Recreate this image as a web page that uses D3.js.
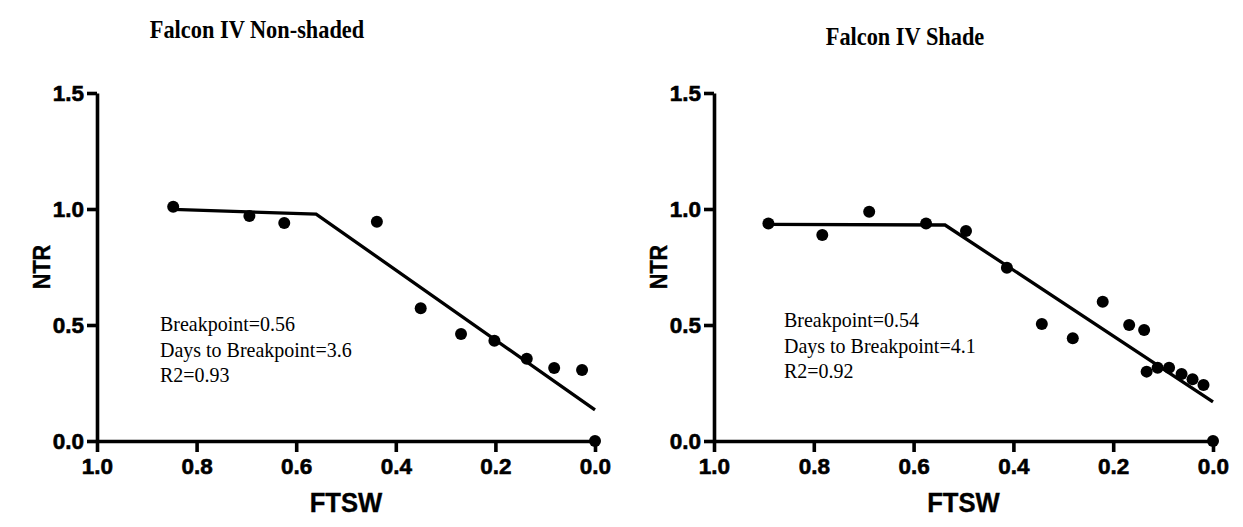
<!DOCTYPE html>
<html><head><meta charset="utf-8">
<script src="https://cdn.jsdelivr.net/npm/d3@7"></script>
<style>body{margin:0;background:#fff}svg{display:block}</style>
</head><body><svg id="c" width="1243" height="527"></svg>
<script>
// Panel titles
const titles = ["Falcon IV Non-shaded", "Falcon IV Shade"];
// Annotations
const notesNS = ["Breakpoint=0.56", "Days to Breakpoint=3.6", "R2=0.93"];
const notesS = ["Breakpoint=0.54", "Days to Breakpoint=4.1", "R2=0.92"];
// Ticks
const xTicks = [1.0, 0.8, 0.6, 0.4, 0.2, 0.0];
const yTicks = [0.0, 0.5, 1.0, 1.5];
// Non-shaded data
const ftswNS = [0.847, 0.694, 0.624, 0.438, 0.350, 0.269, 0.202, 0.137, 0.082, 0.026, 0.0];
const ntrNS  = [1.01, 0.97, 0.94, 0.945, 0.572, 0.461, 0.432, 0.355, 0.315, 0.306, 0.0];
const fitXNS = [0.847, 0.56, 0.0];
const fitYNS = [0.998, 0.978, 0.134];
// Shade data
const ftswS = [0.891, 0.783, 0.689, 0.575, 0.495, 0.413, 0.343, 0.281, 0.221, 0.168, 0.138, 0.133, 0.111, 0.088, 0.063, 0.041, 0.019, 0.0];
const ntrS  = [0.938, 0.888, 0.988, 0.938, 0.905, 0.747, 0.504, 0.443, 0.600, 0.500, 0.478, 0.299, 0.316, 0.316, 0.289, 0.266, 0.241, 0.0];
const fitXS = [0.891, 0.537, 0.0];
const fitYS = [0.934, 0.931, 0.169];

const svg = d3.select("#c");
const y = d3.scaleLinear().domain([0, 1.5]).range([441, 93]);
const SANS = "Liberation Sans, Arial, sans-serif";
const SERIF = "Liberation Serif, Times New Roman, serif";

const panels = [
  {title: titles[0], tx: 257, ty: 38, x0: 97, x1: 595, fx: ftswNS, fy: ntrNS, lx: fitXNS, ly: fitYNS, notes: notesNS, nx: 160, ny: 331, ylab: 41},
  {title: titles[1], tx: 905, ty: 45, x0: 714, x1: 1213, fx: ftswS, fy: ntrS, lx: fitXS, ly: fitYS, notes: notesS, nx: 784, ny: 327, ylab: 658}
];

panels.forEach(p => {
  const x = d3.scaleLinear().domain([1, 0]).range([p.x0, p.x1]);
  const g = svg.append("g");

  g.append("text").attr("transform", `translate(${p.tx},${p.ty}) scale(0.86,1)`).attr("text-anchor", "middle")
    .attr("font-family", SERIF).attr("font-weight", "bold")
    .attr("font-size", 26).text(p.title);

  const xa = g.append("g").attr("transform", `translate(0,${y(0)})`)
    .call(d3.axisBottom(x).tickValues(xTicks).tickFormat(d3.format(".1f")).tickSize(11).tickSizeOuter(0).tickPadding(6));
  const ya = g.append("g").attr("transform", `translate(${x(1)},0)`)
    .call(d3.axisLeft(y).tickValues(yTicks).tickFormat(d3.format(".1f")).tickSize(10).tickSizeOuter(0).tickPadding(3));
  [xa, ya].forEach(a => {
    a.selectAll("path,line").attr("stroke", "#000").attr("stroke-width", 3.6);
    a.selectAll("text").attr("fill", "#000").attr("font-family", SANS)
      .attr("font-weight", "bold").attr("font-size", 22.5)
      .attr("stroke", "#000").attr("stroke-width", 0.6);
  });

  g.append("text").attr("transform", `translate(${(p.x0 + p.x1) / 2},512) scale(0.95,1)`).attr("text-anchor", "middle")
    .attr("font-family", SANS).attr("font-weight", "bold")
    .attr("font-size", 27).attr("stroke", "#000").attr("stroke-width", 0.4).text("FTSW");
  g.append("text").attr("transform", `translate(${p.ylab + 8.5},${(y(0) + y(1.5)) / 2}) rotate(-90) scale(0.9,1)`)
    .attr("text-anchor", "middle")
    .attr("font-family", SANS).attr("font-weight", "bold")
    .attr("font-size", 24).attr("stroke", "#000").attr("stroke-width", 0.4).text("NTR");

  const line = d3.line().x(d => x(d[0])).y(d => y(d[1]));
  g.append("path").datum(d3.zip(p.lx, p.ly)).attr("d", line)
    .attr("fill", "none").attr("stroke", "#000").attr("stroke-width", 3.3);

  g.selectAll("circle.pt").data(d3.zip(p.fx, p.fy)).join("circle").attr("class", "pt")
    .attr("cx", d => x(d[0])).attr("cy", d => y(d[1])).attr("r", 6).attr("fill", "#000");

  g.selectAll("text.note").data(p.notes).join("text").attr("class", "note")
    .attr("transform", (d, i) => `translate(${p.nx},${p.ny + i * 25.5}) scale(0.93,1)`)
    .attr("font-family", SERIF).attr("font-size", 21.5)
    .attr("fill", "#000").text(d => d);
});
</script></body></html>
